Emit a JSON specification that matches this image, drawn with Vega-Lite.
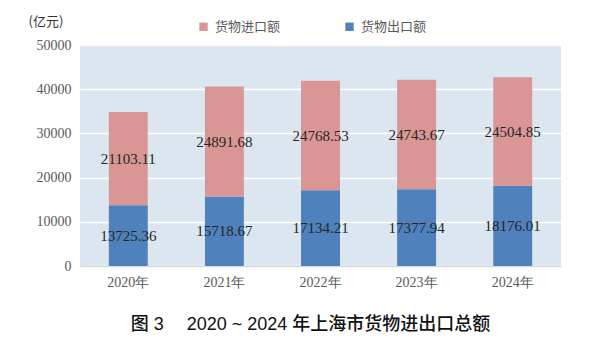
{
  "$schema": "https://vega.github.io/schema/vega-lite/v6.json",
  "width": 481,
  "height": 221,
  "autosize": {"type": "none"},
  "padding": {"left": 80, "top": 45, "right": 39, "bottom": 94},
  "background": "white",
  "config": {
    "view": {"fill": "#DCE6F1", "stroke": null},
    "font": "Noto Sans CJK SC"
  },
  "title": {
    "text": "图 3　 2020 ~ 2024 年上海市货物进出口总额",
    "orient": "bottom",
    "anchor": "middle",
    "fontSize": 18,
    "fontWeight": 500,
    "font": "Liberation Sans, Noto Sans CJK SC",
    "color": "#111111",
    "offset": 27,
    "dx": -10
  },
  "data": {
    "values": [
      {"year": "2020年", "type": "货物出口额", "value": 13725.36},
      {"year": "2020年", "type": "货物进口额", "value": 21103.11},
      {"year": "2021年", "type": "货物出口额", "value": 15718.67},
      {"year": "2021年", "type": "货物进口额", "value": 24891.68},
      {"year": "2022年", "type": "货物出口额", "value": 17134.21},
      {"year": "2022年", "type": "货物进口额", "value": 24768.53},
      {"year": "2023年", "type": "货物出口额", "value": 17377.94},
      {"year": "2023年", "type": "货物进口额", "value": 24743.67},
      {"year": "2024年", "type": "货物出口额", "value": 18176.01},
      {"year": "2024年", "type": "货物进口额", "value": 24504.85}
    ]
  },
  "transform": [
    {"stack": "value", "groupby": ["year"], "sort": [{"field": "type", "order": "ascending"}], "as": ["v0", "v1"]},
    {"calculate": "(datum.v0 + datum.v1) / 2", "as": "vmid"}
  ],
  "encoding": {
    "x": {
      "field": "year",
      "type": "nominal",
      "scale": {"paddingInner": 0.595, "paddingOuter": 0.3},
      "axis": {
        "title": null,
        "labelAngle": 0,
        "labelFont": "Liberation Serif",
        "labelFontSize": 14,
        "labelColor": "#595959",
        "labelPadding": 9,
        "ticks": false,
        "domainColor": "#D9D9D9",
        "domainWidth": 1.5,
        "grid": false
      }
    }
  },
  "layer": [
    {
      "mark": {"type": "bar"},
      "encoding": {
        "y": {
          "field": "v0",
          "type": "quantitative",
          "scale": {"domain": [0, 50000]},
          "axis": {
            "title": "(亿元)",
            "titleAngle": 0,
            "titleX": -52,
            "titleY": -24,
            "titleAlign": "left",
            "titleBaseline": "middle",
            "titleFont": "Noto Sans CJK SC",
            "titleFontSize": 13,
            "titleFontWeight": "normal",
            "titleColor": "#333333",
            "values": [0, 10000, 20000, 30000, 40000, 50000],
            "format": "d",
            "labelFont": "Liberation Serif",
            "labelFontSize": 14,
            "labelColor": "#595959",
            "labelPadding": 9,
            "ticks": false,
            "domain": false,
            "gridColor": "#FFFFFF",
            "gridWidth": 1.5
          }
        },
        "y2": {"field": "v1"},
        "color": {
          "field": "type",
          "type": "nominal",
          "scale": {"domain": ["货物进口额", "货物出口额"], "range": ["#D99694", "#4F81BD"]},
          "legend": {
            "title": null,
            "orient": "none",
            "legendX": 117,
            "legendY": -25,
            "direction": "horizontal",
            "symbolType": "square",
            "symbolSize": 70,
            "symbolStrokeWidth": 0,
            "labelFont": "Noto Sans CJK SC",
            "labelFontSize": 13,
            "labelColor": "#595959",
            "columnPadding": 62,
            "labelOffset": 5
          }
        }
      }
    },
    {
      "mark": {"type": "text", "font": "Liberation Serif", "fontSize": 15, "color": "#262626", "baseline": "middle"},
      "encoding": {
        "y": {"field": "vmid", "type": "quantitative"},
        "text": {"field": "value", "type": "quantitative", "format": ".2f"}
      }
    }
  ]
}
